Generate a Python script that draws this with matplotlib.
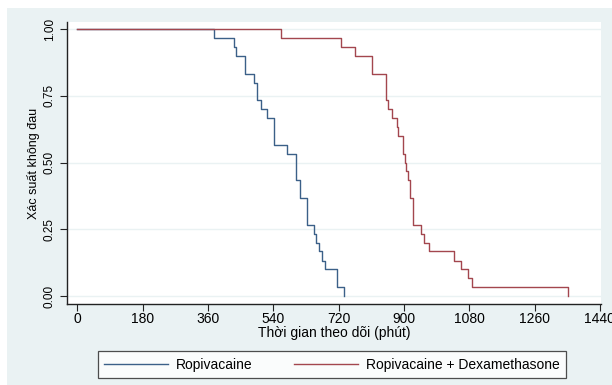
import numpy as np
import matplotlib
matplotlib.use("Agg")
import matplotlib.pyplot as plt
from matplotlib.patches import Rectangle

# Kaplan-Meier step data (n = 30 per group): event times in minutes and
# survival probability right after each event
ROPI_TIMES = [376, 431, 438, 461, 488, 496, 507, 523, 542, 578, 604, 615,
              632, 634, 652, 657, 666, 674, 682, 715, 734]
ROPI_SURV = [0.967, 0.933, 0.900, 0.833, 0.800, 0.733, 0.700, 0.667, 0.567,
             0.533, 0.433, 0.367, 0.333, 0.267, 0.233, 0.200, 0.167, 0.133,
             0.100, 0.033, 0.000]

DEXA_TIMES = [562, 726, 766, 811, 851, 856, 867, 881, 885, 898, 902, 907,
              911, 917, 926, 947, 956, 968, 1038, 1058, 1078, 1088, 1352]
DEXA_SURV = [0.967, 0.933, 0.900, 0.833, 0.733, 0.700, 0.667, 0.633, 0.600,
             0.533, 0.500, 0.467, 0.433, 0.367, 0.267, 0.233, 0.200, 0.167,
             0.133, 0.100, 0.067, 0.033, 0.000]

X_TICKS = [0, 180, 360, 540, 720, 900, 1080, 1260, 1440]
Y_TICKS = [0.00, 0.25, 0.50, 0.75, 1.00]
LABELS = ["Ropivacaine", "Ropivacaine + Dexamethasone"]

BG = "#eaf2f3"
NAVY = "#3b6088"
MAROON = "#a3464e"

plt.rcParams["font.family"] = ["Liberation Sans", "DejaVu Sans"]
plt.rcParams["font.size"] = 10


def km_steps(times, surv):
    # prepend the start of follow-up so the curve begins at 1.0
    t = np.concatenate([[0], times])
    s = np.concatenate([[1.0], surv])
    return t, s


fig = plt.figure(figsize=(6.12, 3.85), dpi=100)
fig.patch.set_facecolor("white")
fig.add_artist(Rectangle((7 / 612, 0), 1, 1 - 8 / 385, transform=fig.transFigure,
                         facecolor=BG, edgecolor="none", zorder=-5))

ax = fig.add_axes([67 / 612, 1 - 304 / 385, (601 - 67) / 612, (304 - 22) / 385])
ax.set_facecolor("white")

for times, surv, color, label in [(ROPI_TIMES, ROPI_SURV, NAVY, LABELS[0]),
                                  (DEXA_TIMES, DEXA_SURV, MAROON, LABELS[1])]:
    t, s = km_steps(times, surv)
    ax.step(t, s, where="post", color=color, lw=1.0, label=label)

ax.set_xlim(-28, 1443)
ax.set_ylim(-0.03, 1.027)
ax.set_xticks(X_TICKS)
ax.set_yticks(Y_TICKS)
ax.set_yticklabels([f"{v:.2f}" for v in Y_TICKS], rotation=90, va="center", fontsize=8.5)
ax.grid(axis="y", color=BG, lw=1.0)
ax.set_axisbelow(True)
for side in ["top", "right"]:
    ax.spines[side].set_visible(False)
for side in ["left", "bottom"]:
    ax.spines[side].set_color("#222222")
    ax.spines[side].set_linewidth(1.0)
ax.tick_params(length=5, width=0.8, color="#222222")
ax.tick_params(axis="x", pad=1)
ax.tick_params(axis="y", pad=3)
ax.set_xlabel("Thời gian theo dõi (phút)", labelpad=0)
ax.set_ylabel("Xác suất không đau", labelpad=3, fontsize=9)

leg = fig.legend(loc="center", bbox_to_anchor=(332 / 612, 1 - 364.5 / 385), ncol=2,
                 frameon=True, fancybox=False, handlelength=4.6, handletextpad=0.6,
                 columnspacing=3.0, borderpad=0.45)
leg.get_frame().set_edgecolor("#222222")
leg.get_frame().set_linewidth(0.9)

fig.savefig("out.png", dpi=100, facecolor=fig.get_facecolor())
